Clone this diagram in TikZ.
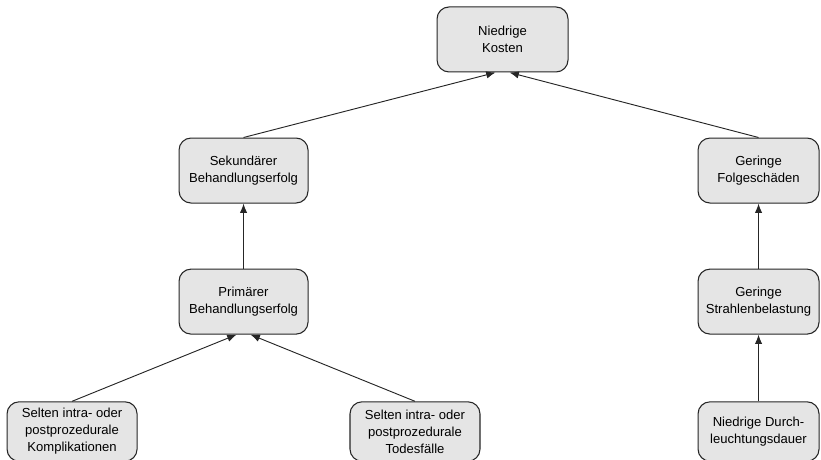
\documentclass[tikz,border=0pt]{standalone}
\usepackage{fontspec}
\setmainfont{Liberation Sans}
\usetikzlibrary{arrows.meta,positioning}

\begin{document}
\begin{tikzpicture}
  [goal/.style={rectangle,rounded corners=9pt,draw=black!85,fill=black!10,
                line width=0.8pt,align=center,inner sep=0pt,
                minimum width=96.75pt,minimum height=48.75pt,
                font=\fontsize{9.8}{12.75}\selectfont},
   narrow/.style={goal,minimum width=90.75pt},
   leaf/.style={goal,minimum width=97.5pt,minimum height=44.5pt},
   link/.style={-{Latex[length=7pt,width=5.5pt]},line width=0.7pt,draw=black!85}]
  \useasboundingbox (0,0) rectangle (615.75pt,-345pt);
  \node[goal,minimum width=98.25pt] (kosten) at (376.9pt,-29.6pt) {Niedrige\\Kosten};
  \node[goal]   (sekundaer) [below=48.75pt of kosten,xshift=-194.25pt] {Sekund\"arer\\Behandlungserfolg};
  \node[narrow] (folge)     [below=48.75pt of kosten,xshift=192pt]     {Geringe\\Folgesch\"aden};
  \node[goal]   (primaer)   [below=48.75pt of sekundaer] {Prim\"arer\\Behandlungserfolg};
  \node[narrow] (strahlen)  [below=48.75pt of folge]     {Geringe\\Strahlenbelastung};
  \node[leaf]   (kompl)     [below=50pt of primaer,xshift=-128.6pt] {Selten intra- oder\\postprozedurale\\Komplikationen};
  \node[leaf]   (tod)       [below=50pt of primaer,xshift=128.6pt]  {Selten intra- oder\\postprozedurale\\Todesf\"alle};
  \node[leaf,minimum width=90.75pt] (dauer) [below=50pt of strahlen] {Niedrige Durch-\\leuchtungsdauer};
  \draw[link] (sekundaer.north) -- ([xshift=-5.25pt]kosten.south);
  \draw[link] (folge.north) -- ([xshift=5.25pt]kosten.south);
  \draw[link] (primaer) -- (sekundaer);
  \draw[link] (strahlen) -- (folge);
  \draw[link] (dauer) -- (strahlen);
  \draw[link] (kompl.north) -- ([xshift=-5.25pt]primaer.south);
  \draw[link] (tod.north) -- ([xshift=5.25pt]primaer.south);
\end{tikzpicture}
\end{document}
